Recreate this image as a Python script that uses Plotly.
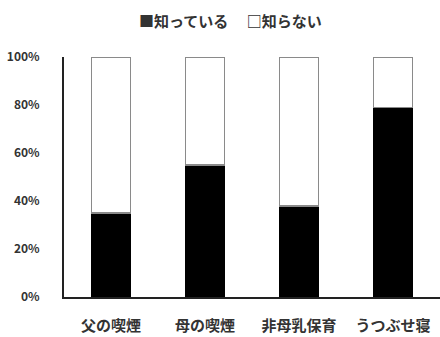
import plotly.graph_objects as go

categories = ["父の喫煙", "母の喫煙", "非母乳保育", "うつぶせ寝"]
know = [0.35, 0.55, 0.38, 0.79]
dont_know = [0.65, 0.45, 0.62, 0.21]
series_names = ["知っている", "知らない"]
tick_vals = [0, 0.2, 0.4, 0.6, 0.8, 1.0]
tick_text = ["0%", "20%", "40%", "60%", "80%", "100%"]

font_family = "Noto Sans CJK JP"

fig = go.Figure()
fig.add_trace(go.Bar(x=categories, y=know, name=series_names[0],
                     marker=dict(color="black", line=dict(color="black", width=1))))
fig.add_trace(go.Bar(x=categories, y=dont_know, name=series_names[1],
                     marker=dict(color="white", line=dict(color="#8a8a8a", width=1.5))))

fig.update_layout(
    width=440, height=337,
    barmode="stack", bargap=0.58,
    showlegend=False,
    plot_bgcolor="white", paper_bgcolor="white",
    margin=dict(l=64, r=0, t=57, b=40),
    font=dict(family=font_family, color="#333333"),
    annotations=[dict(text="■" + series_names[0] + " 　□" + series_names[1],
                      x=(230 - 64) / 376, y=(337 - 20 - 40) / (337 - 57 - 40), xref="paper", yref="paper",
                      xanchor="center", yanchor="middle", showarrow=False,
                      font=dict(size=15, family=font_family, color="#333333", weight="bold"))],
)

fig.update_yaxes(range=[0, 1.0], tickvals=tick_vals, ticktext=tick_text,
                 showgrid=False, zeroline=False,
                 showline=True, linecolor="#222222", linewidth=2,
                 ticks="", ticklabelstandoff=20,
                 tickfont=dict(size=12, family=font_family, color="#333333", weight="bold"))
fig.update_xaxes(showline=True, linecolor="#222222", linewidth=2, ticks="",
                 ticklabelstandoff=14,
                 tickfont=dict(size=15, family=font_family, color="#333333", weight="bold"))

fig.write_html("out.html")
